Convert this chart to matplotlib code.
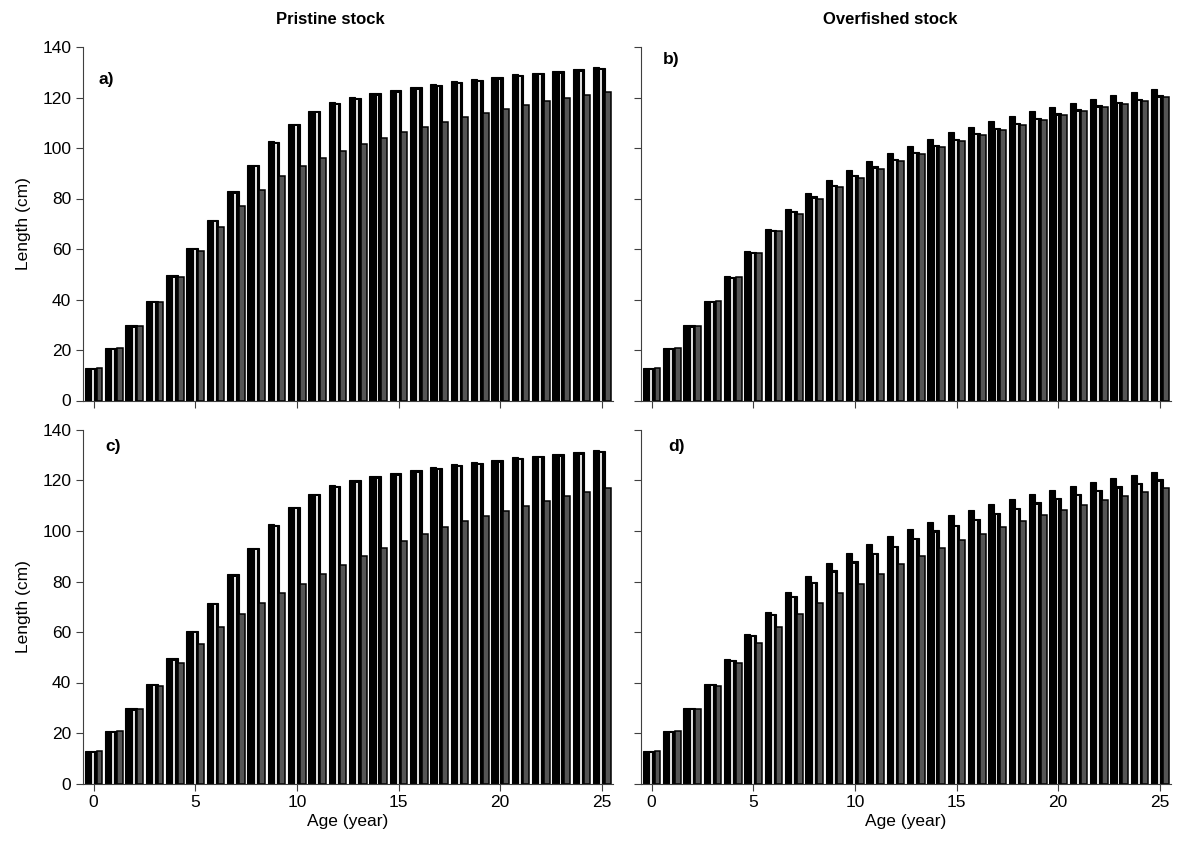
import numpy as np
import matplotlib
matplotlib.use("Agg")
import matplotlib.pyplot as plt

plt.rcParams['font.family'] = ['Liberation Sans', 'DejaVu Sans']

ages = np.arange(0, 26)

# pristine stock, base series (black) - same in a) and c)
prist_base = [12.8, 20.8, 29.8, 39.5, 49.7, 60.5, 71.6, 83.0, 93.4, 102.6, 109.7, 114.8, 118.1,
              120.2, 121.8, 123.0, 124.2, 125.3, 126.4, 127.3, 128.2, 129.2, 129.9, 130.6, 131.3, 131.9]
prist_mid = [12.8, 20.8, 29.8, 39.5, 49.6, 60.4, 71.4, 82.8, 93.2, 102.4, 109.5, 114.6, 117.9,
             120.0, 121.6, 122.8, 124.0, 125.1, 126.2, 127.1, 128.0, 129.0, 129.7, 130.4, 131.1, 131.7]
prist_low_a = [12.8, 20.8, 29.7, 39.2, 49.1, 59.4, 68.7, 77.0, 83.5, 88.8, 92.7, 96.0, 98.8,
               101.4, 104.0, 106.3, 108.3, 110.4, 112.2, 114.0, 115.5, 117.1, 118.5, 119.8, 121.0, 122.2]
prist_low_c = [12.8, 20.8, 29.7, 38.8, 47.6, 55.4, 61.9, 67.0, 71.3, 75.4, 79.2, 83.0, 86.7,
               90.0, 93.2, 96.2, 98.8, 101.4, 103.9, 106.0, 108.0, 110.0, 112.0, 113.8, 115.5, 117.0]

# overfished stock
over_base = [12.8, 20.8, 29.8, 39.5, 49.3, 59.1, 68.0, 75.8, 82.1, 87.2, 91.4, 95.0, 98.1,
             100.9, 103.7, 106.2, 108.4, 110.7, 112.8, 114.6, 116.3, 117.9, 119.5, 120.9, 122.1, 123.3]
over_mid_b = [12.8, 20.8, 29.8, 39.4, 49.1, 58.9, 67.6, 75.1, 80.8, 85.3, 89.3, 92.7, 95.6,
              98.5, 101.1, 103.5, 105.9, 108.0, 110.0, 111.8, 113.7, 115.3, 116.9, 118.2, 119.5, 120.8]
over_low_b = [12.8, 20.8, 29.7, 39.3, 48.9, 58.4, 67.0, 74.0, 79.9, 84.4, 88.2, 91.8, 94.7,
              97.6, 100.2, 102.7, 105.0, 107.1, 109.2, 111.0, 112.9, 114.5, 116.1, 117.4, 118.7, 120.1]
over_mid_d = [12.8, 20.9, 29.9, 39.5, 49.1, 58.8, 67.3, 74.3, 79.9, 84.4, 88.0, 91.2, 94.2,
              97.2, 100.2, 102.5, 104.9, 107.1, 109.1, 111.3, 113.0, 114.7, 116.3, 117.7, 119.2, 120.4]
over_low_d = [12.8, 20.8, 29.7, 38.8, 47.6, 55.5, 62.0, 67.1, 71.5, 75.5, 79.2, 83.0, 86.8,
              90.2, 93.4, 96.3, 99.0, 101.6, 104.1, 106.2, 108.5, 110.3, 112.3, 113.9, 115.6, 117.0]

panels = [
    ("a)", prist_base, prist_mid, prist_low_a),
    ("b)", over_base, over_mid_b, over_low_b),
    ("c)", prist_base, prist_mid, prist_low_c),
    ("d)", over_base, over_mid_d, over_low_d),
]
label_pos = [(0.029, 0.93), (0.041, 0.985), (0.042, 0.975), (0.051, 0.975)]

fig = plt.figure(figsize=(11.77, 8.52), dpi=100)
W, H = 1177, 852
boxes = [(83, 47), (641, 47), (83, 430), (641, 430)]
aw, ah = 530, 353.5

w = 0.29
for i, (lab, s1, s2, s3) in enumerate(panels):
    x0, y0 = boxes[i]
    ax = fig.add_axes([x0 / W, 1 - (y0 + ah) / H, aw / W, ah / H])
    ax.bar(ages - w, s1, w, color='black', edgecolor='black', linewidth=0.8)
    # middle series: black outline with a thin light core, as in the original
    ax.bar(ages, s2, w, color='black', edgecolor='black', linewidth=0.8)
    ax.bar(ages - 0.03, np.array(s2) - 0.9, 0.09, color='#dcdcdc', linewidth=0)
    ax.bar(ages + w, s3, w, color='#555555', edgecolor='black', linewidth=1.1)
    ax.set_xlim(-0.52, 25.55)
    ax.set_ylim(0, 140)
    ax.set_yticks(range(0, 141, 20))
    ax.set_xticks(range(0, 26, 5))
    ax.spines['top'].set_visible(False)
    ax.spines['right'].set_visible(False)
    ax.spines['left'].set_color('#404040')
    ax.spines['bottom'].set_color('#404040')
    ax.tick_params(direction='out', length=5, width=0.8, labelsize=12.5, color='#404040')
    if i % 2 == 1:
        ax.set_yticklabels([])
    else:
        ax.set_ylabel('Length (cm)', fontsize=12.5, labelpad=8)
    if i < 2:
        ax.set_xticklabels([])
    else:
        ax.set_xlabel('Age (year)', fontsize=12.5, labelpad=3)
    lx, ly = label_pos[i]
    ax.text(lx, ly, lab, transform=ax.transAxes, fontsize=12.5, fontweight='bold',
            va='top', ha='left')

fig.text(330 / W, 1 - 20 / H, 'Pristine stock', fontsize=12, fontweight='bold', ha='center', va='center')
fig.text(890 / W, 1 - 20 / H, 'Overfished stock', fontsize=12, fontweight='bold', ha='center', va='center')

fig.savefig('out.png', dpi=100)
